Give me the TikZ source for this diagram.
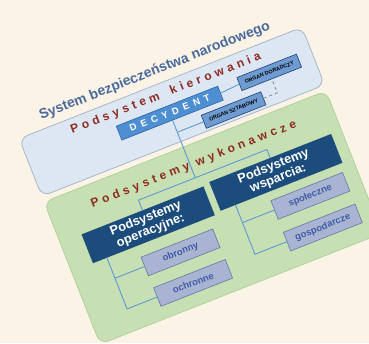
\documentclass[tikz,border=0pt]{standalone}
\usepackage{fontspec}
\setmainfont{Liberation Sans}
\definecolor{bgcream}{HTML}{FBF4E6}
\definecolor{bluefill}{HTML}{DCE7F3}
\definecolor{bluebord}{HTML}{A9B7C9}
\definecolor{greenfill}{HTML}{C6E0B4}
\definecolor{greenbord}{HTML}{B2D19E}
\definecolor{titleblue}{HTML}{4A6A9C}
\definecolor{redtext}{HTML}{8E2B22}
\definecolor{decfill}{HTML}{4E8FD3}
\definecolor{decbord}{HTML}{2E64A0}
\definecolor{organfill}{HTML}{6F9BD3}
\definecolor{organbord}{HTML}{1F3F6E}
\definecolor{darkfill}{HTML}{1B4C7C}
\definecolor{subfill}{HTML}{A9B4D3}
\definecolor{subbord}{HTML}{6677A3}
\definecolor{subtext}{HTML}{3F5CA6}
\definecolor{linkblue}{HTML}{5B9BD5}
\tikzset{
  panel/.style={rounded corners=9pt, line width=0.8pt},
  titletext/.style={text=titleblue, font=\fontsize{14}{14}\selectfont\bfseries, inner sep=0pt},
  redspaced/.style={text=redtext, font=\fontsize{12}{12}\selectfont\bfseries\addfontfeature{LetterSpace=32}, inner sep=0pt},
  decbox/.style={draw=decbord, fill=decfill, text=white, line width=0.6pt, minimum width=109pt, minimum height=15pt, inner sep=0pt, font=\fontsize{9.5}{9.5}\selectfont\bfseries\addfontfeature{LetterSpace=50}},
  organ/.style={draw=organbord, fill=organfill, text=black, line width=0.6pt, minimum width=64pt, minimum height=14pt, inner sep=0pt, font=\fontsize{5.4}{6}\selectfont\bfseries},
  darkbox/.style={fill=darkfill, text=white, minimum width=131pt, minimum height=31pt, inner sep=0pt, align=center, font=\fontsize{12.8}{13}\selectfont\bfseries},
  subbox/.style={draw=subbord, fill=subfill, text=subtext, line width=0.6pt, minimum width=77pt, minimum height=20pt, inner sep=0pt, font=\fontsize{9.5}{10}\selectfont\bfseries},
  link/.style={draw=linkblue, line width=0.9pt}
}
\begin{document}
\begin{tikzpicture}[x=1pt,y=-1pt]
\useasboundingbox (0,0) rectangle (369,343);
\clip (0,0) rectangle (369,343);
\fill[bgcream] (0,0) rectangle (369,343);

\begin{scope}[rotate=21.5, every node/.append style={transform shape}]
% Panels
\draw[panel, draw=bluebord, fill=bluefill] (-33,136) rectangle (271,198);
\draw[panel, draw=greenbord, fill=greenfill] (-33,204) rectangle (270,357);

% Text Node
\node[titletext] (title) at (118,123) {System bezpieczeństwa narodowego};
\node[redspaced] (kierowania) at (120,148) {Podsystem\quad kierowania};
\node[redspaced] (wykonawcze) at (120,224) {Podsystemy wykonawcze};

% Boxes
\node[decbox] (decydent) at (116.5,167.5) {DECYDENT};
\node[organ] (doradca) at (224,166) {ORGAN DORADCZY};
\node[organ] (sztab) at (177,188) {ORGAN SZTABOWY};
\node[darkbox] (operacyjne) at (55.5,263.5) {Podsystemy\\operacyjne:};
\node[darkbox] (wsparcia) at (193.5,261.5) {Podsystemy\\wsparcia:};
\node[subbox] (obronny) at (75.5,301) {obronny};
\node[subbox] (ochronne) at (76,334) {ochronne};
\node[subbox] (spoleczne) at (217,296) {społeczne};
\node[subbox] (gospodarcze) at (217,330) {gospodarcze};

% Bends
\coordinate (bar) at (116.5,237);
\coordinate (barL) at (55.5,237);
\coordinate (barR) at (193.5,237);
\coordinate (sztabJ) at (116.5,188);
\coordinate (dashC) at (224,188);
\coordinate (opF) at (5,279);
\coordinate (obJ) at (5,301);
\coordinate (ochJ) at (5,334);
\coordinate (wsF) at (144,277);
\coordinate (spJ) at (144,296);
\coordinate (goJ) at (144,330);

% Connectors
\draw[link] (decydent.east) -- (doradca.west);
\draw[link] (decydent.south) -- (bar);
\draw[link] (sztabJ) -- (sztab.west);
\draw[link, dashed, draw=bluebord!80!black] (sztab.east) -- (dashC) -- (doradca.south);
\draw[link] (operacyjne.north) -- (barL) -- (barR) -- (wsparcia.north);
\draw[link] (opF) -- (ochJ) -- (ochronne.west);
\draw[link] (obJ) -- (obronny.west);
\draw[link] (wsF) -- (goJ) -- (gospodarcze.west);
\draw[link] (spJ) -- (spoleczne.west);
\end{scope}
\end{tikzpicture}
\end{document}
